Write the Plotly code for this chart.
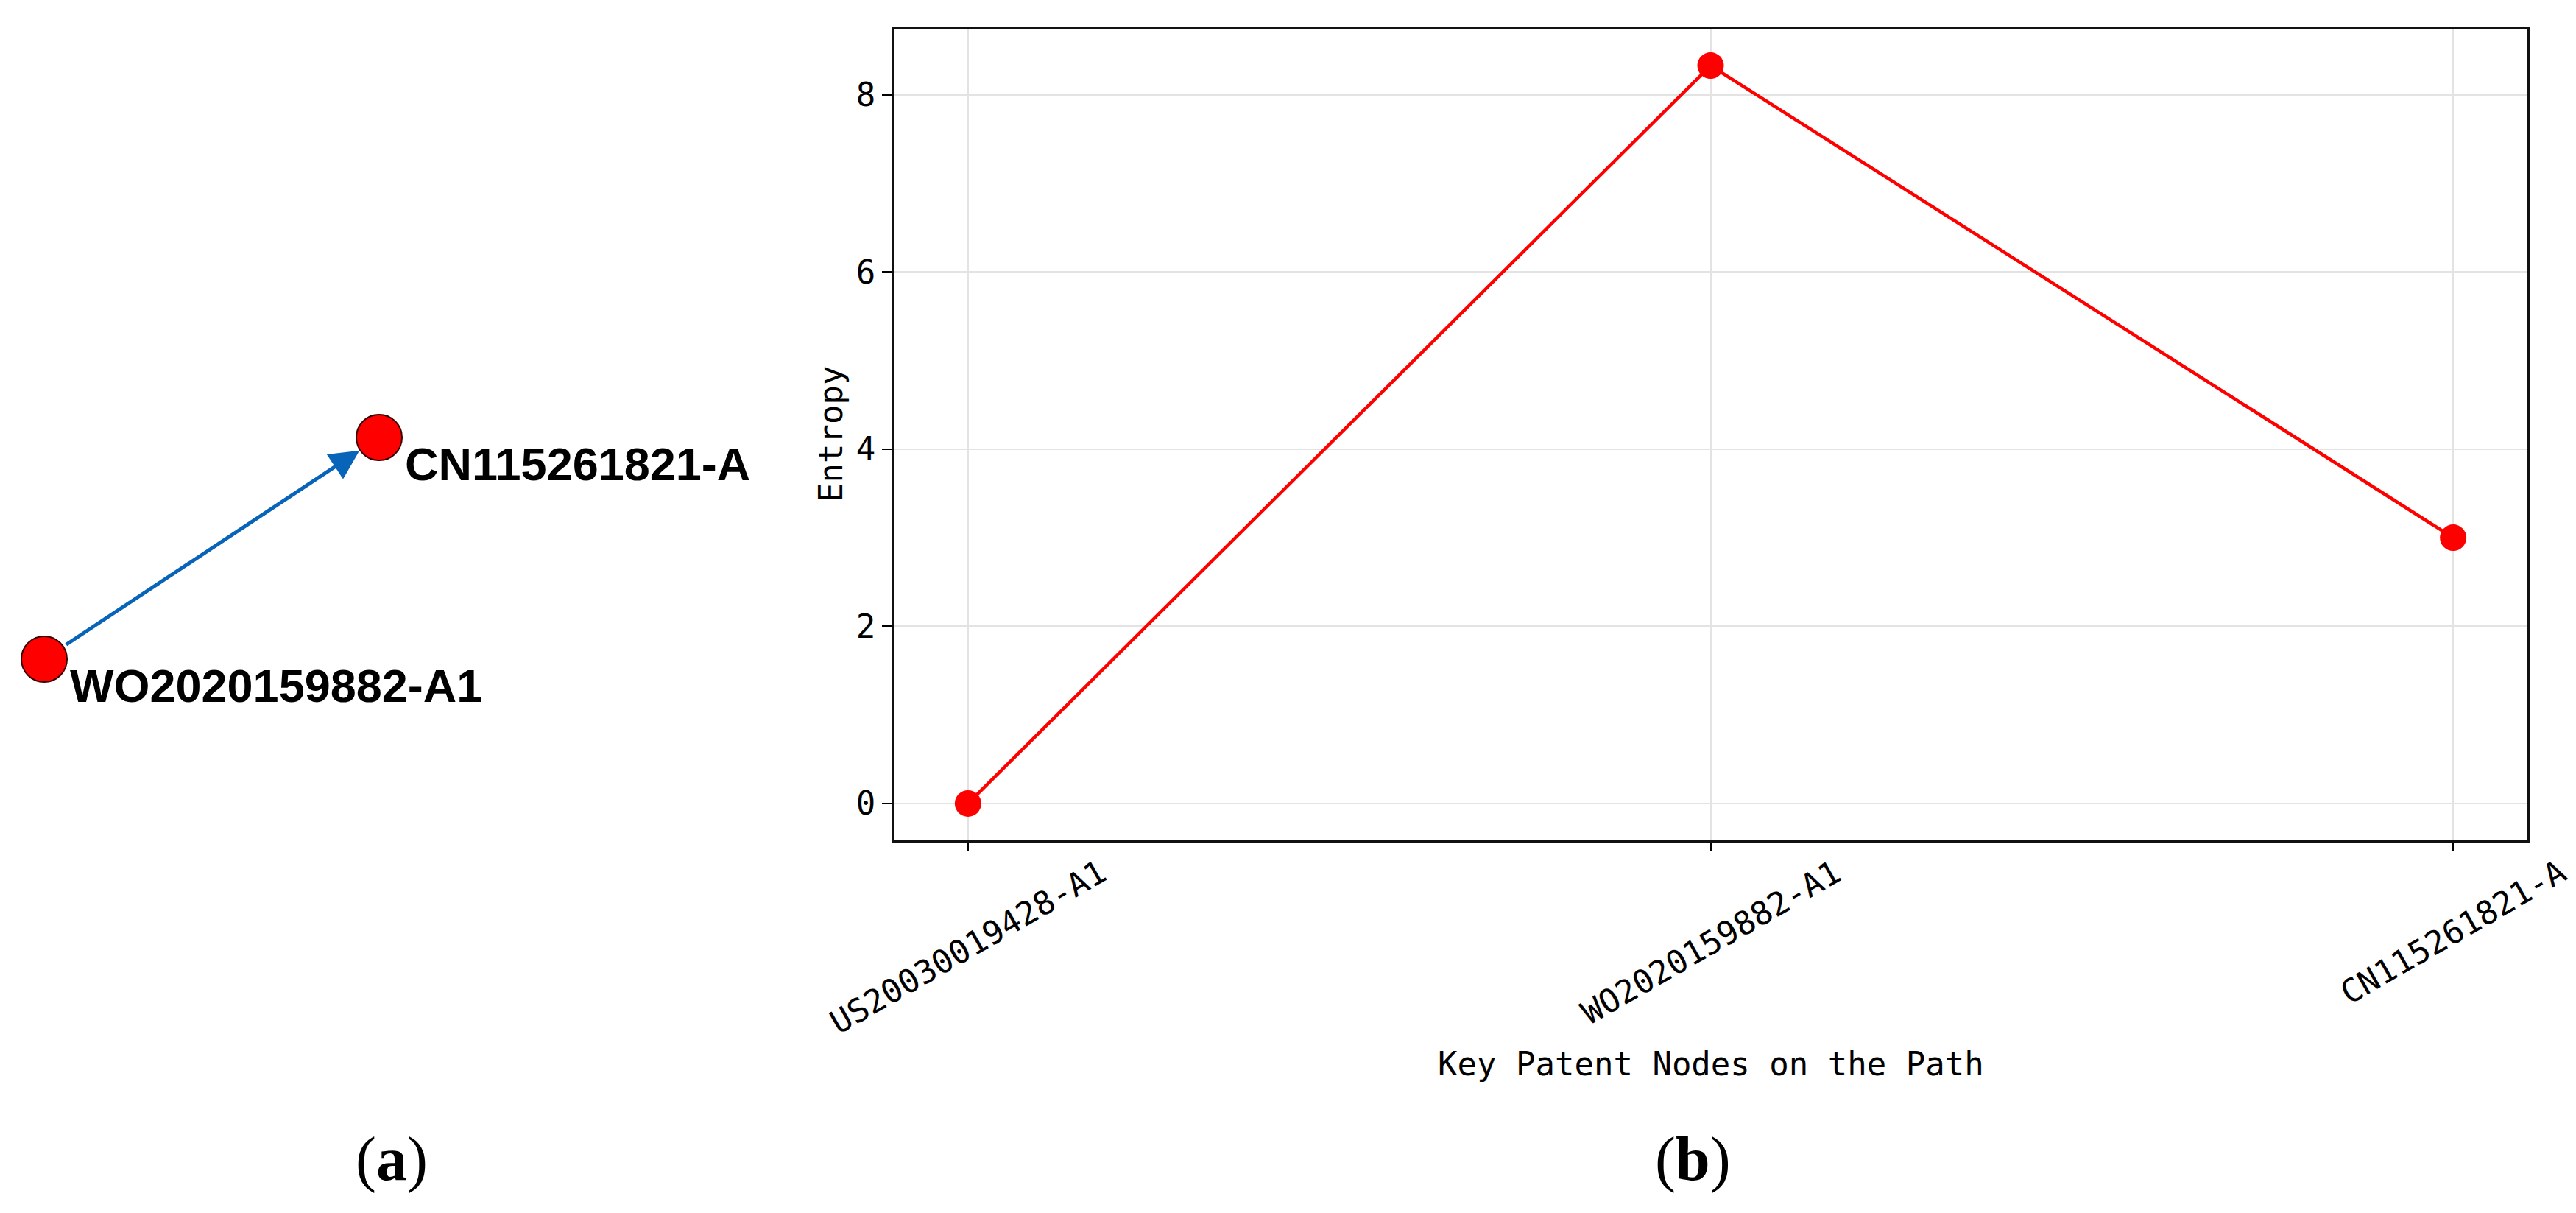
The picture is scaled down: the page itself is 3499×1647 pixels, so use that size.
import plotly.graph_objects as go

# panel (b): entropy along the key path
path_nodes = ["US20030019428-A1", "WO2020159882-A1", "CN115261821-A"]
entropy = [0.0, 8.33, 3.0]
y_ticks = [0, 2, 4, 6, 8]

# panel (a): small network of key patents (layout positions)
net_labels = ["WO2020159882-A1", "CN115261821-A"]
net_x = [0.0, 1.0]
net_y = [0.0, 1.0]
net_edges = [(0, 1)]

W, H = 3499, 1647
mono = "DejaVu Sans Mono"

fig = go.Figure()

# Entropy line
fig.add_trace(go.Scatter(
    x=path_nodes,
    y=entropy,
    mode="lines+markers",
    line=dict(color="red", width=4.5),
    marker=dict(color="red", size=36),
    xaxis="x", yaxis="y",
))

# network nodes
fig.add_trace(go.Scatter(
    x=net_x,
    y=net_y,
    mode="markers",
    marker=dict(color="#ff0000", size=62, line=dict(color="#3a0000", width=2)),
    xaxis="x2", yaxis="y2",
))

annotations = []

# edges with arrow heads
for a, b in net_edges:
    annotations.append(dict(
        x=net_x[b], y=net_y[b], ax=net_x[a], ay=net_y[a],
        xref="x2", yref="y2", axref="x2", ayref="y2",
        text="", showarrow=True, arrowhead=2, arrowsize=1.6,
        arrowwidth=5, arrowcolor="#0864b8",
        standoff=32, startstandoff=34,
    ))

# node labels
for i, lab in enumerate(net_labels):
    annotations.append(dict(
        x=net_x[i], y=net_y[i], xref="x2", yref="y2",
        text="<b>" + lab + "</b>", showarrow=False,
        xanchor="left", yanchor="middle", xshift=33, yshift=-36,
        font=dict(family="Liberation Sans", size=63, color="black"),
    ))

# rotated x tick labels, centred under the ticks
for lab in path_nodes:
    annotations.append(dict(
        x=lab, y=(H - 1147) / H, xref="x", yref="paper",
        text=lab, showarrow=False, textangle=-30,
        xanchor="center", yanchor="top",
        font=dict(family=mono, size=44, color="black"),
    ))

# axis titles
annotations.append(dict(
    x=0.5, y=(H - 1436) / H, xref="x domain", yref="paper",
    text="Key Patent Nodes on the Path", showarrow=False,
    xanchor="center", yanchor="middle",
    font=dict(family=mono, size=44, color="black"),
))
annotations.append(dict(
    x=1120 / W, y=0.5, xref="paper", yref="y domain",
    text="Entropy", showarrow=False, textangle=-90,
    xanchor="center", yanchor="middle",
    font=dict(family=mono, size=44, color="black"),
))

# panel captions
for txt, px in [("(<b>a</b>)", 524), ("(<b>b</b>)", 2291)]:
    annotations.append(dict(
        x=px / W, y=(H - 1566) / H, xref="paper", yref="paper",
        text=txt, showarrow=False, xanchor="center", yanchor="middle",
        font=dict(family="Liberation Serif", size=84, color="black"),
    ))

fig.update_layout(
    width=W, height=H,
    margin=dict(l=0, r=0, t=0, b=0),
    paper_bgcolor="white", plot_bgcolor="white",
    showlegend=False,
    annotations=annotations,
    xaxis=dict(
        domain=[1206 / W, 3425 / W], anchor="y",
        type="category", range=[-0.1, 2.1],
        showticklabels=False, ticks="outside", ticklen=12, tickwidth=2, tickcolor="black",
        showgrid=True, gridcolor="#e3e3e3", gridwidth=2,
        showline=True, mirror=True, linecolor="#111", linewidth=3,
        zeroline=False,
    ),
    yaxis=dict(
        domain=[(H - 1133) / H, (H - 31) / H], anchor="x",
        range=[-0.4165, 8.7465], tickvals=y_ticks,
        ticks="outside", ticklen=13, tickwidth=2, tickcolor="black",
        tickfont=dict(family=mono, size=44, color="black"),
        showgrid=True, gridcolor="#e3e3e3", gridwidth=2,
        showline=True, mirror=True, linecolor="#111", linewidth=3,
        zeroline=False,
    ),
    xaxis2=dict(
        domain=[0, 0.3], anchor="y2", range=[-0.1143, 2.1927], visible=False,
    ),
    yaxis2=dict(
        domain=[0.2, 0.8], anchor="x2", range=[-1.4306, 1.8525], visible=False,
    ),
)

fig.write_html("out.html")
